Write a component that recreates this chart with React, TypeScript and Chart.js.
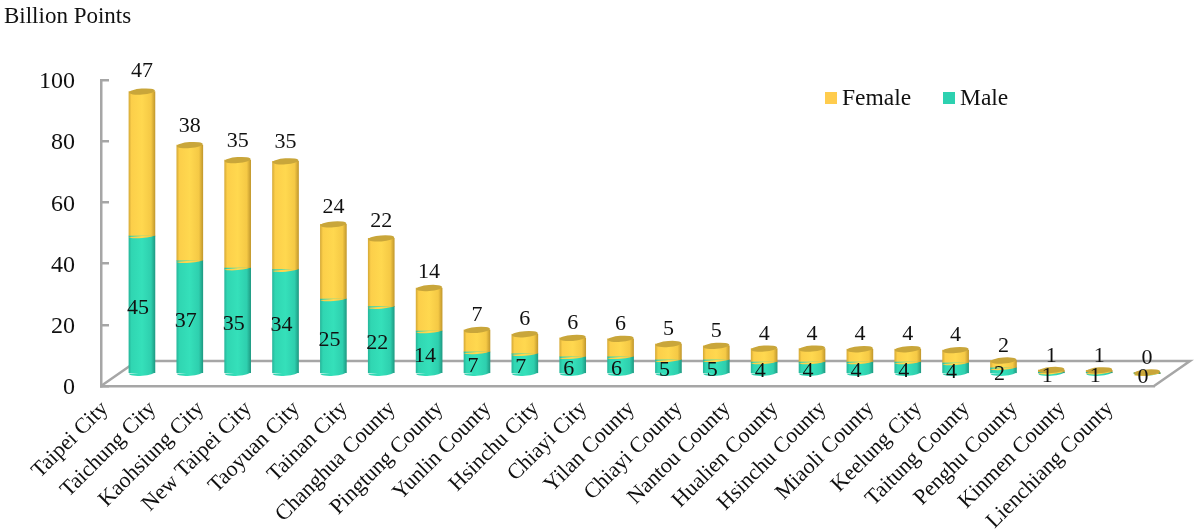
import React, { useEffect, useRef } from "react";
import { Chart, registerables } from "chart.js";

Chart.register(...registerables);

const categories = [
  "Taipei City", "Taichung City", "Kaohsiung City", "New Taipei City", "Taoyuan City", "Tainan City",
  "Changhua County", "Pingtung County", "Yunlin County", "Hsinchu City", "Chiayi City", "Yilan County",
  "Chiayi County", "Nantou County", "Hualien County", "Hsinchu County", "Miaoli County", "Keelung City",
  "Taitung County", "Penghu County", "Kinmen County", "Lienchiang County",
];
const femaleValues = [47.2, 37.8, 35.3, 35.4, 24.4, 22.3, 14.05, 7.2, 6.4, 6.2, 5.9, 5.2, 4.6, 4.4, 4.4, 4.2, 4.2, 4.2, 2.4, 0.7, 0.6, 0.4];
const maleValues = [45.1, 37.0, 34.6, 34.1, 24.5, 22.0, 14.05, 7.2, 6.6, 5.6, 5.6, 4.6, 4.6, 3.9, 3.9, 3.9, 3.9, 3.6, 2.0, 0.6, 0.6, 0.1];
const yTicks = [0, 20, 40, 60, 80, 100];

const FONT = '"Liberation Serif"';
const GRAY = "#a6a6a6";
const FEMALE = "#ffcc4d";
const MALE = "#2dd1b0";
const TOP_CAP = "#c9a63a";
const BAR_W = 26;
const SHIFT_X = 17;
const SHIFT_Y = -12;
const DEPTH_X = 36;
const DEPTH_Y = -25;
const TILT = -0.08;

function cylinderFill(stops: [string, string, string, string, string]) {
  return (c: any) => {
    if (c.type !== "data") return stops[2];
    const cx = c.chart.scales.x?.getPixelForValue(c.dataIndex);
    if (!Number.isFinite(cx)) return stops[2];
    const g = c.chart.ctx.createLinearGradient(cx - BAR_W / 2, 0, cx + BAR_W / 2, 0);
    g.addColorStop(0, stops[0]);
    g.addColorStop(0.1, stops[1]);
    g.addColorStop(0.5, stops[2]);
    g.addColorStop(0.85, stops[3]);
    g.addColorStop(1, stops[4]);
    return g;
  };
}

const threeD = {
  id: "threeD",
  beforeDatasetsDraw(chart: any) {
    const { ctx, chartArea: a } = chart;
    ctx.save();
    ctx.strokeStyle = GRAY;
    ctx.lineWidth = 2.5;
    ctx.beginPath();
    ctx.moveTo(a.left, a.bottom);
    ctx.lineTo(a.left + DEPTH_X, a.bottom + DEPTH_Y);
    ctx.lineTo(a.right + DEPTH_X, a.bottom + DEPTH_Y);
    ctx.lineTo(a.right, a.bottom);
    ctx.stroke();
    ctx.restore();
    ctx.save();
    ctx.translate(SHIFT_X, SHIFT_Y);
  },
  afterDatasetsDraw(chart: any) {
    const { ctx } = chart;
    const male = chart.getDatasetMeta(0).data;
    const female = chart.getDatasetMeta(1).data;
    const half = (ry: number) => (b: any) => {
      ctx.fillStyle = b.options.backgroundColor;
      ctx.beginPath();
      ctx.ellipse(b.x, b.base, BAR_W / 2, ry, TILT, 0, Math.PI);
      ctx.fill();
    };
    male.forEach(half(3));
    female.forEach(half(2));
    ctx.fillStyle = TOP_CAP;
    female.forEach((b: any) => {
      ctx.beginPath();
      ctx.ellipse(b.x, b.y, BAR_W / 2, 3, TILT, 0, Math.PI * 2);
      ctx.fill();
    });

    ctx.fillStyle = "#111";
    ctx.font = `22px ${FONT}`;
    ctx.textAlign = "center";
    ctx.textBaseline = "middle";
    male.forEach((b: any, i: number) => {
      ctx.fillText(String(Math.round(maleValues[i])), b.x - 4, (b.y + b.base) / 2 + 4);
    });
    female.forEach((b: any, i: number) => {
      ctx.fillText(String(Math.round(femaleValues[i])), b.x, b.y - 14 - femaleValues[i] * 0.14);
    });
    ctx.restore();

    // legend
    ctx.save();
    ctx.font = `23.5px ${FONT}`;
    ctx.textAlign = "left";
    ctx.textBaseline = "middle";
    const legendX = [943, 825];
    chart.data.datasets.forEach((d: any, i: number) => {
      ctx.fillStyle = d.legendColor;
      ctx.fillRect(legendX[i], 92, 12, 12);
      ctx.fillStyle = "#111";
      ctx.fillText(d.label, legendX[i] + 17, 98.5);
    });
    ctx.restore();
  },
};

export default function App() {
  const ref = useRef<HTMLCanvasElement>(null);
  useEffect(() => {
    const chart = new Chart(ref.current as HTMLCanvasElement, {
      type: "bar",
      data: {
        labels: categories,
        datasets: [
          {
            label: "Male",
            data: maleValues,
            legendColor: MALE,
            stack: "a",
            barThickness: BAR_W,
            clip: false,
            borderWidth: 0,
            backgroundColor: cylinderFill(["#27b89c", "#30d6b2", "#35e0ba", "#2ecfae", "#1f9c84"]),
          },
          {
            label: "Female",
            data: femaleValues,
            legendColor: FEMALE,
            stack: "a",
            barThickness: BAR_W,
            clip: false,
            borderWidth: 0,
            backgroundColor: cylinderFill(["#d8ac38", "#fccf4a", "#ffd84f", "#f5c945", "#c49a2e"]),
          },
        ] as any,
      },
      options: {
        animation: false,
        responsive: false,
        layout: { padding: { top: 0, left: 4, right: 40, bottom: 0 } },
        plugins: {
          legend: { display: false },
          tooltip: { enabled: false },
          title: {
            display: true,
            text: "Billion Points",
            align: "start",
            color: "#111",
            font: { family: FONT, size: 23, weight: "normal" },
            padding: { top: 3, bottom: 49.4 },
          },
        },
        scales: {
          x: {
            stacked: true,
            afterFit: (s: any) => { s.height = 146; },
            grid: { display: false },
            border: { color: GRAY, width: 2.5 },
            ticks: {
              autoSkip: false,
              maxRotation: 45,
              minRotation: 45,
              labelOffset: -20,
              padding: 2,
              color: "#111",
              font: { family: FONT, size: 22 },
            },
          },
          y: {
            stacked: true,
            min: 0,
            max: 100,
            afterBuildTicks: (s: any) => { s.ticks = yTicks.map((value) => ({ value })); },
            afterFit: (s: any) => { s.width = 97; },
            grid: { drawOnChartArea: false, color: GRAY, lineWidth: 2.5, tickLength: -8 },
            border: { color: GRAY, width: 2.5 },
            ticks: { padding: 34, labelOffset: 2, color: "#111", font: { family: FONT, size: 24 } },
          },
        },
      } as any,
      plugins: [threeD],
    });
    return () => chart.destroy();
  }, []);
  return (
    <div style={{ position: "absolute", left: 0, top: 0, width: 1194, height: 532 }}>
      <canvas ref={ref} width={1194} height={532} style={{ display: "block" }} />
    </div>
  );
}
